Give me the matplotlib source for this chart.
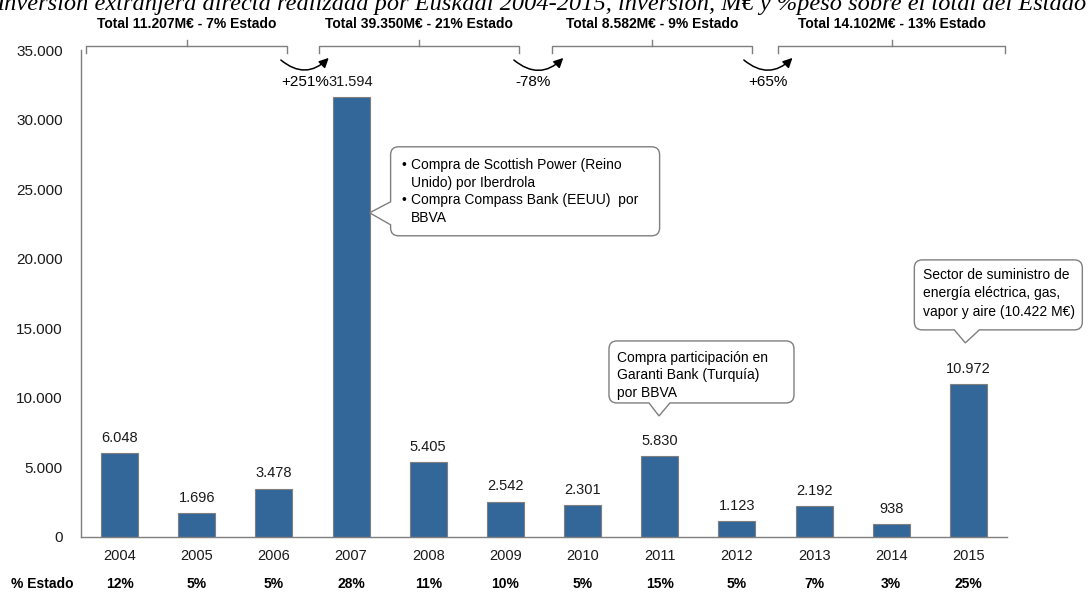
import matplotlib
matplotlib.use('Agg')
import matplotlib.pyplot as plt
import matplotlib.transforms as mtransforms
from matplotlib.path import Path
from matplotlib.patches import PathPatch
import numpy as np

plt.rcParams['font.family'] = ['Liberation Sans', 'DejaVu Sans']

# datos
years = ['2004', '2005', '2006', '2007', '2008', '2009', '2010', '2011', '2012', '2013', '2014', '2015']
inversion = [6048, 1696, 3478, 31594, 5405, 2542, 2301, 5830, 1123, 2192, 938, 10972]
pct_estado = ['12%', '5%', '5%', '28%', '11%', '10%', '5%', '15%', '5%', '7%', '3%', '25%']

periodos = ['Total 11.207M€ - 7% Estado', 'Total 39.350M€ - 21% Estado',
            'Total 8.582M€ - 9% Estado', 'Total 14.102M€ - 13% Estado']
variaciones = ['+251%', '-78%', '+65%']

titulo = ('Inversión extranjera directa realizada por Euskadi 2004-2015, '
          'inversión, M€ y %peso sobre el total del Estado')

nota_2007 = [('Compra de Scottish Power (Reino', True), ('Unido) por Iberdrola', False),
             ('Compra Compass Bank (EEUU)  por', True), ('BBVA', False)]
nota_2011 = ['Compra participación en', 'Garanti Bank (Turquía)', 'por BBVA']
nota_2015 = ['Sector de suministro de', 'energía eléctrica, gas,', 'vapor y aire (10.422 M€)']

bar_color = '#336699'
gris = '#7f7f7f'

fig = plt.figure(figsize=(10.92, 5.92), dpi=100)
ax = fig.add_axes([81 / 1092, 55 / 592, 926 / 1092, 487 / 592])

x = np.arange(len(years))
ax.bar(x, inversion, width=0.48, color=bar_color, edgecolor=gris, linewidth=0.8, zorder=2)

for xi, v in zip(x, inversion):
    ax.annotate(f'{v:,}'.replace(',', '.'), (xi, v), xytext=(0, 11), textcoords='offset points',
                ha='center', va='center', fontsize=10.5, color='#1a1a1a')

ax.set_xlim(-0.5, 11.5)
ax.set_ylim(0, 35000)
ax.set_yticks(np.arange(0, 35001, 5000))
ax.set_yticklabels([f'{int(t):,}'.replace(',', '.') for t in np.arange(0, 35001, 5000)])
ax.set_xticks(x)
ax.set_xticklabels(years)
ax.tick_params(axis='y', length=0, pad=13, labelsize=11, labelcolor='#1a1a1a')
ax.tick_params(axis='x', length=0, pad=9, labelsize=10.5, labelcolor='#1a1a1a')
for s in ['top', 'right']:
    ax.spines[s].set_visible(False)
for s in ['left', 'bottom']:
    ax.spines[s].set_color(gris)
    ax.spines[s].set_linewidth(1)

# fila % Estado
trans = mtransforms.blended_transform_factory(ax.transData, ax.transAxes)
ax.text(-0.042, -0.0965, '% Estado', transform=ax.transAxes, ha='center', va='center',
        fontsize=10, fontweight='bold')
for xi, p in zip(x, pct_estado):
    ax.text(xi, -0.0965, p, transform=trans, ha='center', va='center', fontsize=10, fontweight='bold')

# llaves de periodos
tramos = [(-0.43, 2.17), (2.58, 5.18), (5.60, 8.20), (8.53, 11.48)]
for (x0, x1), lab in zip(tramos, periodos):
    xc = (x0 + x1) / 2
    ax.plot([x0, x0, x1, x1], [34780, 35290, 35290, 34780], color=gris, lw=1, clip_on=False)
    ax.plot([xc, xc], [35290, 35720], color=gris, lw=1, clip_on=False)
    ax.text(xc, 36900, lab, ha='center', va='center', fontsize=10, fontweight='bold')

# flechas de variacion
flechas = [(2.09, 2.71), (5.11, 5.75), (8.09, 8.72)]
pos_var = [2.40, 5.36, 8.40]
for (a, b), xv, lab in zip(flechas, pos_var, variaciones):
    ax.annotate('', xy=(b, 34430), xytext=(a, 34280), annotation_clip=False,
                arrowprops=dict(arrowstyle='-|>', connectionstyle='arc3,rad=0.45', color='black',
                                lw=1.1, shrinkA=0, shrinkB=0, mutation_scale=14))
    ax.text(xv, 32690, lab, ha='center', va='center', fontsize=11)


def globo(xt, yt, pts):
    # pts: (x, y, redondeado) en pixeles relativos a la punta
    rad = 8
    verts, codes = [(0, 0)], [Path.MOVETO]
    full = [(0, 0, False)] + pts
    for i in range(1, len(full)):
        px, py, rd = full[i]
        if not rd:
            verts.append((px, py))
            codes.append(Path.LINETO)
            continue
        qx, qy, _ = full[i - 1]
        nx, ny, _ = full[(i + 1) % len(full)]
        u = np.array([qx - px, qy - py], float)
        u /= np.hypot(*u)
        w = np.array([nx - px, ny - py], float)
        w /= np.hypot(*w)
        verts += [(px + rad * u[0], py + rad * u[1]), (px, py), (px + rad * w[0], py + rad * w[1])]
        codes += [Path.LINETO, Path.CURVE3, Path.CURVE3]
    verts.append((0, 0))
    codes.append(Path.CLOSEPOLY)
    tr = mtransforms.Affine2D().scale(fig.dpi / 100) + mtransforms.ScaledTranslation(xt, yt, ax.transData)
    ax.add_patch(PathPatch(Path(verts, codes), facecolor='white', edgecolor=gris, lw=1,
                           transform=tr, clip_on=False, zorder=4))
    return tr


# globo 2007
tr = globo(3.24, 23300, [(21, 11, False), (21, 66, True), (290, 66, True), (290, -23, True),
                         (21, -23, True), (21, -12, False)])
for (linea, bullet), yy in zip(nota_2007, [48, 30, 13, -5]):
    if bullet:
        ax.text(32, yy, '•', transform=tr, ha='left', va='center', fontsize=10, zorder=5)
    ax.text(41, yy, linea, transform=tr, ha='left', va='center', fontsize=10, zorder=5)

# globo 2011
tr = globo(6.99, 8700, [(-10, 13, False), (-50, 13, True), (-50, 75, True), (135, 75, True),
                        (135, 13, True), (11, 13, False)])
for linea, yy in zip(nota_2011, [58, 40.5, 23]):
    ax.text(-42, yy, linea, transform=tr, ha='left', va='center', fontsize=10, zorder=5)

# globo 2015
tr = globo(10.96, 13950, [(-11, 13, False), (-51, 13, True), (-51, 83, True), (117, 83, True),
                          (117, 13, True), (14, 13, False)])
for linea, yy in zip(nota_2015, [68, 50, 31]):
    ax.text(-42, yy, linea, transform=tr, ha='left', va='center', fontsize=10, zorder=5)

fig.text(-0.004, 1 - 10 / 592, titulo, ha='left', va='baseline', fontsize=17.6,
         family='Liberation Serif', style='italic')

fig.savefig('out.png', dpi=100)
